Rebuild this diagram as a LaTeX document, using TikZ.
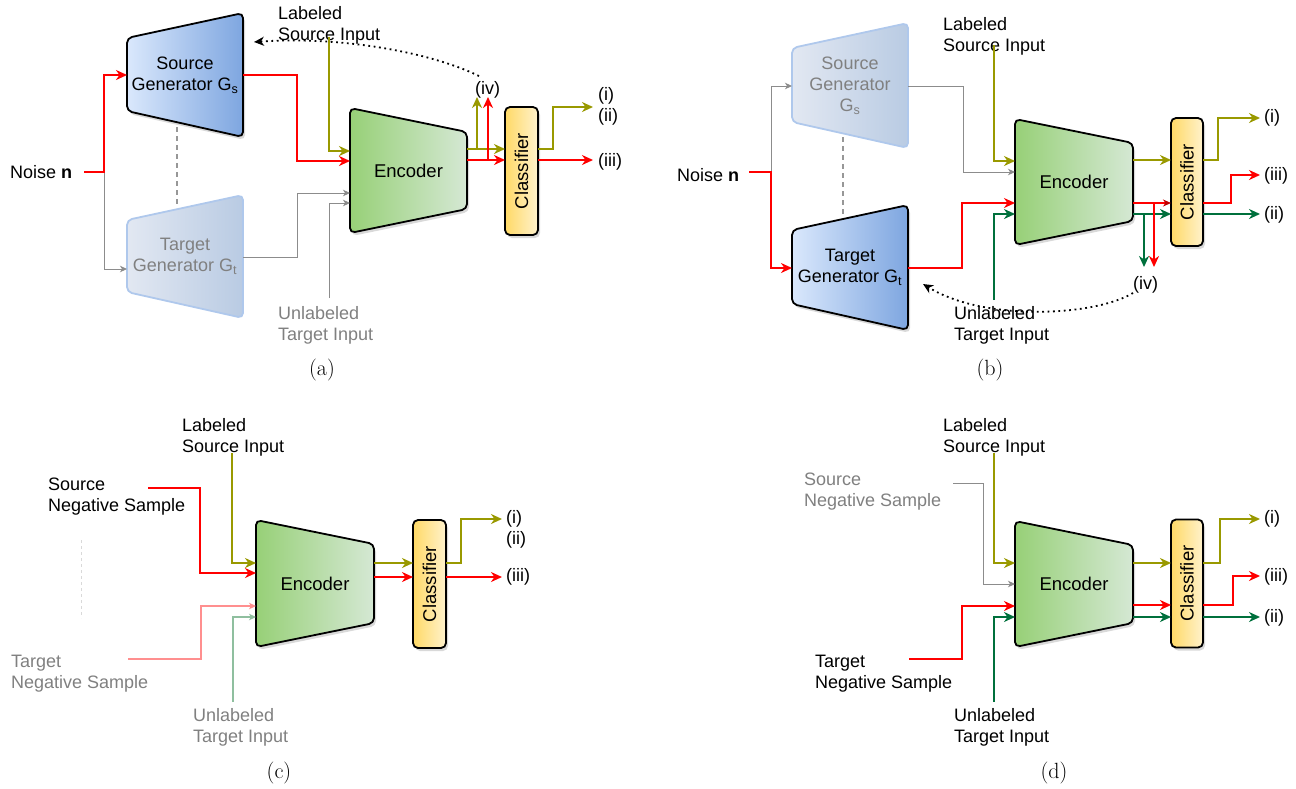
\documentclass[tikz,border=0pt]{standalone}
\usepackage{fontspec}
\newfontfamily\labfont{Liberation Sans}
\usetikzlibrary{arrows.meta,calc}
\definecolor{olivec}{HTML}{999900}
\definecolor{greenc}{RGB}{0,112,60}
\definecolor{greyc}{HTML}{8C8C8C}
\definecolor{greytxt}{HTML}{808080}
\definecolor{pinkc}{HTML}{FF8F8F}
\definecolor{palegreen}{HTML}{8FBF9F}
\definecolor{blueL}{HTML}{DAE8FC}
\definecolor{blueD}{HTML}{7EA6E0}
\definecolor{fadeL}{HTML}{E2E8F2}
\definecolor{fadeR}{HTML}{B9CBE3}
\definecolor{fadeB}{HTML}{AFC8EC}
\definecolor{greenL}{HTML}{97D077}
\definecolor{greenR}{HTML}{D5E8D4}
\definecolor{yelL}{HTML}{FFD966}
\definecolor{yelR}{HTML}{FFF2CC}
\pgfdeclarelayer{bg}
\pgfsetlayers{bg,main}
\newcommand\gentrap[2]{\path[#2] ([yshift=-25pt]#1.north west) -- (#1.north east) -- (#1.south east) -- ([yshift=26pt]#1.south west) -- cycle;}
\newcommand\enctrap[2]{\path[#2] (#1.north west) -- ([yshift=-24pt]#1.north east) -- ([yshift=24pt]#1.south east) -- (#1.south west) -- cycle;}
\tikzset{
 lbl/.style={font=\labfont\fontsize{18}{21}\selectfont, align=left, inner sep=0pt, anchor=west},
 big/.style={font=\labfont\fontsize{18.5}{22}\selectfont, inner sep=0pt},
 shapebox/.style={inner sep=0pt, outer sep=0pt, align=center, font=\labfont\fontsize{18}{21}\selectfont},
 encfont/.style={font=\labfont\fontsize{18.5}{22}\selectfont},
 clsbox/.style={draw=black, line width=1.8pt, rounded corners=5pt, left color=yelL, right color=yelR, minimum height=128pt, minimum width=33pt, inner sep=0pt, outer sep=0pt},
 capt/.style={font=\fontsize{22}{24}\selectfont, inner sep=0pt},
 genfill/.style={draw=black, line width=1.8pt, left color=blueL, right color=blueD, rounded corners=5pt},
 genfade/.style={draw=fadeB, line width=1.8pt, left color=fadeL, right color=fadeR, rounded corners=5pt},
 encfill/.style={draw=black, line width=1.8pt, left color=greenL, right color=greenR, rounded corners=5pt},
 shadowp/.style={fill=black, fill opacity=0.15, draw=none, rounded corners=5pt, transform canvas={shift={(2pt,-3pt)}}},
 rl/.style={draw=red, line width=2pt},
 ol/.style={draw=olivec, line width=2pt},
 gl/.style={draw=greenc, line width=2pt},
 gy/.style={draw=greyc, line width=1pt},
 pk/.style={draw=pinkc, line width=1.2pt},
 pg/.style={draw=palegreen, line width=1.2pt},
 bigarr/.style={-{Stealth[length=11pt,width=10pt,inset=3.5pt]}},
 smallarr/.style={-{Stealth[length=7pt,width=6.5pt,inset=2pt]}},
 dotarr/.style={draw=black, line width=1.8pt, dash pattern=on 1.8pt off 3.6pt, -{Stealth[length=10pt,width=9pt,inset=3pt]}},
 dashline/.style={draw=greyc!90, line width=1.3pt, dash pattern=on 5pt off 4pt},
 faintdash/.style={draw=black!15, line width=0.8pt, dash pattern=on 3pt off 3pt},
}
\begin{document}
\begin{tikzpicture}[x=1pt,y=-1pt]
\useasboundingbox (0,0) rectangle (1296,788);

% ================= Panel (a)
\node[lbl] (noiseA) at (10,172) {Noise \textbf{n}};
\coordinate (nA) at (84,172);
\node[shapebox,minimum width=116pt,minimum height=124pt] (srcA) at (185,75) {Source\\Generator G\textsubscript{s}};
\node[shapebox,text=greytxt,minimum width=116pt,minimum height=123pt] (tgtA) at (185,256.5) {Target\\Generator G\textsubscript{t}};
\node[shapebox,encfont,minimum width=117pt,minimum height=125pt] (encA) at (408.5,170.5) {Encoder};
\node[clsbox] (clsA) at (521.5,171) {};
\node[big,rotate=90] (clsAt) at (clsA.center) {Classifier};
\node[lbl] (lsiA) at (278,25) {Labeled\\Source Input};
\node[lbl,text=greytxt] (utiA) at (278,325) {Unlabeled\\Target Input};
\node[lbl] (ivA) at (475,90) {(iv)};
\node[lbl] (o1A) at (598,106) {(i)\\(ii)};
\node[lbl] (o3A) at (598,162) {(iii)};
\node[capt] (capA) at (322,370) {(a)};

\draw[gy,smallarr] (104,172) -- (104,269) -- (tgtA.west |- 0,269);
\draw[rl,bigarr] (nA) -- (104,172) -- (104,75) -- (srcA.west |- 0,75);
\draw[rl,bigarr] (srcA.east |- 0,75) -- (297,75) -- (297,161) -- (encA.west |- 0,161);
\draw[ol,bigarr] (329,37) -- (329,151) -- (encA.west |- 0,151);
\draw[gy,smallarr] (tgtA.east |- 0,257) -- (297,257) -- (297,193) -- (encA.west |- 0,193);
\draw[gy,smallarr] (329,298) -- (329,203) -- (encA.west |- 0,203);
\draw[ol,bigarr] (encA.east |- 0,149) -- (clsA.west |- 0,149);
\draw[rl,bigarr] (encA.east |- 0,160) -- (clsA.west |- 0,160);
\draw[ol,bigarr] (477,149) -- (477,97);
\draw[rl,bigarr] (488,160) -- (488,97);
\draw[ol,bigarr] (clsA.east |- 0,149) -- (553,149) -- (553,107) -- (593,107);
\draw[rl,bigarr] (clsA.east |- 0,160) -- (593,160);
\draw[dotarr] (479,76) .. controls (430,52) and (340,36) .. (254,42);
\draw[dashline] (177,127) -- (177,207);

% ================= Panel (b)
\node[lbl] (noiseB) at (677,175) {Noise \textbf{n}};
\coordinate (nB) at (749,172);
\node[shapebox,text=greytxt,minimum width=116pt,minimum height=125pt] (srcB) at (850,85.5) {Source\\Generator\\G\textsubscript{s}};
\node[shapebox,minimum width=116pt,minimum height=125pt] (tgtB) at (850,267.5) {Target\\Generator G\textsubscript{t}};
\node[shapebox,encfont,minimum width=118pt,minimum height=126pt] (encB) at (1074,182) {Encoder};
\node[clsbox,minimum width=32pt] (clsB) at (1187,182) {};
\node[big,rotate=90] (clsBt) at (clsB.center) {Classifier};
\node[lbl] (lsiB) at (943,36) {Labeled\\Source Input};
\node[lbl] (utiB) at (954,325) {Unlabeled\\Target Input};
\node[lbl] (ivB) at (1133,285) {(iv)};
\node[lbl] (o1B) at (1264,118) {(i)};
\node[lbl] (o3B) at (1264,176) {(iii)};
\node[lbl] (o2B) at (1264,215) {(ii)};
\node[capt] (capB) at (990,370) {(b)};

\draw[gy,smallarr] (771,172) -- (771,86) -- (srcB.west |- 0,86);
\draw[rl,bigarr] (nB) -- (771,172) -- (771,268) -- (tgtB.west |- 0,268);
\draw[gy,smallarr] (srcB.east |- 0,86) -- (963,86) -- (963,172) -- (encB.west |- 0,172);
\draw[ol,bigarr] (994,45) -- (994,161) -- (encB.west |- 0,161);
\draw[rl,bigarr] (tgtB.east |- 0,268) -- (962,268) -- (962,203) -- (encB.west |- 0,203);
\draw[gl,bigarr] (994,300) -- (994,214) -- (encB.west |- 0,214);
\draw[ol,bigarr] (encB.east |- 0,160) -- (clsB.west |- 0,160);
\draw[rl,-{Stealth[length=8pt,width=7pt,inset=2.5pt,color=red!75!black]}] (encB.east |- 0,203) -- (clsB.west |- 0,203);
\draw[gl,bigarr] (encB.east |- 0,214) -- (clsB.west |- 0,214);
\draw[gl,bigarr] (1144,214) -- (1144,267);
\draw[rl,bigarr] (1154,203) -- (1154,267);
\draw[ol,bigarr] (clsB.east |- 0,160) -- (1218,160) -- (1218,118) -- (1260,118);
\draw[rl,bigarr] (clsB.east |- 0,203) -- (1231,203) -- (1231,175) -- (1260,175);
\draw[gl,bigarr] (clsB.east |- 0,214) -- (1260,214);
\draw[dotarr] (1133,293) .. controls (1095,316) and (985,322) .. (923,284);
\draw[dashline] (843,137) -- (843,215);

% ================= Panel (c)
\node[lbl] (lsiC) at (182,437.5) {Labeled\\Source Input};
\node[lbl] (snsC) at (48,496.5) {Source\\Negative Sample};
\node[lbl,text=greytxt] (tnsC) at (11,673.5) {Target\\Negative Sample};
\node[lbl,text=greytxt] (utiC) at (193,727) {Unlabeled\\Target Input};
\node[shapebox,encfont,minimum width=118pt,minimum height=127pt] (encC) at (315,583.5) {Encoder};
\node[clsbox] (clsC) at (429.5,584) {};
\node[big,rotate=90] (clsCt) at (clsC.center) {Classifier};
\node[lbl] (o1C) at (506,529.5) {(i)\\(ii)};
\node[lbl] (o3C) at (506,577) {(iii)};
\node[capt] (capC) at (279,773) {(c)};

\draw[ol,bigarr] (232,453) -- (232,563) -- (encC.west |- 0,563);
\draw[rl,bigarr] (148,488) -- (200,488) -- (200,573) -- (encC.west |- 0,573);
\draw[pk,smallarr] (128,659) -- (201,659) -- (201,606) -- (encC.west |- 0,606);
\draw[pg,smallarr] (233,702) -- (233,617) -- (encC.west |- 0,617);
\draw[faintdash] (81,540) -- (81,618);
\draw[ol,bigarr] (encC.east |- 0,563) -- (clsC.west |- 0,563);
\draw[rl,bigarr] (encC.east |- 0,577) -- (clsC.west |- 0,577);
\draw[ol,bigarr] (clsC.east |- 0,563) -- (461,563) -- (461,519) -- (502,519);
\draw[rl,bigarr] (clsC.east |- 0,577) -- (502,577);

% ================= Panel (d)
\node[lbl] (lsiD) at (943,437.5) {Labeled\\Source Input};
\node[lbl,text=greytxt] (snsD) at (804,491.5) {Source\\Negative Sample};
\node[lbl] (tnsD) at (815,673.5) {Target\\Negative Sample};
\node[lbl] (utiD) at (954,727) {Unlabeled\\Target Input};
\node[shapebox,encfont,minimum width=118pt,minimum height=126pt] (encD) at (1074,584) {Encoder};
\node[clsbox,minimum width=32pt] (clsD) at (1187,583.5) {};
\node[big,rotate=90] (clsDt) at (clsD.center) {Classifier};
\node[lbl] (o1D) at (1264,519) {(i)};
\node[lbl] (o3D) at (1264,577) {(iii)};
\node[lbl] (o2D) at (1264,618) {(ii)};
\node[capt] (capD) at (1054,773) {(d)};

\draw[ol,bigarr] (994,453) -- (994,563) -- (encD.west |- 0,563);
\draw[gy,smallarr] (953,483) -- (983,483) -- (983,584) -- (encD.west |- 0,584);
\draw[rl,bigarr] (909,659) -- (962,659) -- (962,606) -- (encD.west |- 0,606);
\draw[gl,bigarr] (994,702) -- (994,617) -- (encD.west |- 0,617);
\draw[ol,bigarr] (encD.east |- 0,563) -- (clsD.west |- 0,563);
\draw[rl,bigarr] (encD.east |- 0,605) -- (clsD.west |- 0,605);
\draw[gl,bigarr] (encD.east |- 0,617) -- (clsD.west |- 0,617);
\draw[ol,bigarr] (clsD.east |- 0,563) -- (1220,563) -- (1220,519) -- (1260,519);
\draw[rl,bigarr] (clsD.east |- 0,605) -- (1233,605) -- (1233,576) -- (1260,576);
\draw[gl,bigarr] (clsD.east |- 0,617) -- (1260,617);

% ================= shapes (background layer)
\begin{pgfonlayer}{bg}
 \gentrap{srcA}{shadowp} \gentrap{srcA}{genfill}
 \gentrap{tgtA}{genfade}
 \gentrap{srcB}{genfade}
 \gentrap{tgtB}{shadowp} \gentrap{tgtB}{genfill}
 \foreach \e in {encA,encB,encC,encD}{\enctrap{\e}{shadowp} \enctrap{\e}{encfill}}
 \foreach \c in {clsA,clsB,clsC,clsD}{\path[shadowp] (\c.north west) rectangle (\c.south east);}
\end{pgfonlayer}
\end{tikzpicture}
\end{document}
